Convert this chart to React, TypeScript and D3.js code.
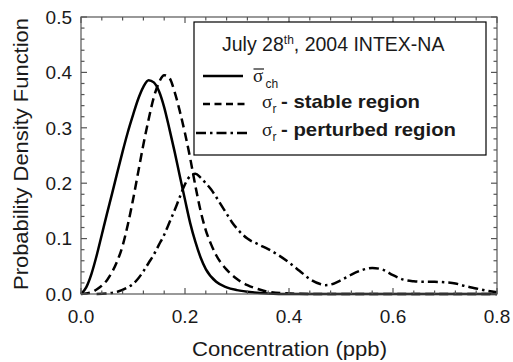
import React from "react";
import * as d3 from "d3";

// ---- data ----
const chX = [0, 0.01, 0.02, 0.03, 0.04, 0.05, 0.06, 0.07, 0.08, 0.09, 0.1, 0.11, 0.12, 0.13, 0.14, 0.15, 0.16, 0.17, 0.18, 0.19, 0.2, 0.21, 0.22, 0.23, 0.24, 0.26, 0.28, 0.3, 0.33, 0.36, 0.4, 0.8];
const chY = [0, 0.012, 0.036, 0.069, 0.107, 0.145, 0.182, 0.22, 0.257, 0.292, 0.323, 0.352, 0.374, 0.386, 0.382, 0.366, 0.337, 0.298, 0.257, 0.213, 0.17, 0.128, 0.094, 0.066, 0.045, 0.022, 0.012, 0.007, 0.003, 0.001, 0, 0];

const stableX = [0, 0.02, 0.03, 0.04, 0.05, 0.06, 0.07, 0.08, 0.09, 0.1, 0.11, 0.12, 0.13, 0.14, 0.15, 0.16, 0.17, 0.18, 0.19, 0.2, 0.21, 0.22, 0.23, 0.24, 0.25, 0.26, 0.28, 0.3, 0.32, 0.34, 0.36, 0.4, 0.45, 0.8];
const stableY = [0, 0.003, 0.008, 0.015, 0.025, 0.04, 0.06, 0.087, 0.125, 0.17, 0.22, 0.27, 0.315, 0.355, 0.382, 0.395, 0.39, 0.365, 0.33, 0.29, 0.245, 0.195, 0.15, 0.115, 0.09, 0.07, 0.044, 0.027, 0.016, 0.009, 0.004, 0.001, 0, 0];

const pertX = [0.03, 0.05, 0.07, 0.09, 0.1, 0.11, 0.12, 0.13, 0.14, 0.15, 0.16, 0.17, 0.18, 0.19, 0.2, 0.21, 0.22, 0.23, 0.24, 0.25, 0.26, 0.27, 0.28, 0.29, 0.3, 0.32, 0.34, 0.36, 0.38, 0.4, 0.42, 0.44, 0.46, 0.47, 0.48, 0.5, 0.52, 0.54, 0.56, 0.58, 0.6, 0.62, 0.64, 0.66, 0.68, 0.7, 0.72, 0.74, 0.76, 0.78, 0.8];
const pertY = [0, 0.001, 0.004, 0.012, 0.018, 0.028, 0.041, 0.056, 0.071, 0.089, 0.107, 0.129, 0.151, 0.175, 0.198, 0.213, 0.217, 0.21, 0.2, 0.189, 0.175, 0.16, 0.145, 0.13, 0.118, 0.1, 0.09, 0.081, 0.07, 0.057, 0.042, 0.027, 0.018, 0.016, 0.017, 0.025, 0.035, 0.043, 0.047, 0.044, 0.034, 0.026, 0.023, 0.022, 0.022, 0.021, 0.019, 0.014, 0.01, 0.006, 0.003];

const xTicks = [0, 0.2, 0.4, 0.6, 0.8];
const yTicks = [0, 0.1, 0.2, 0.3, 0.4, 0.5];
const xMinor = [0.04, 0.08, 0.12, 0.16, 0.24, 0.28, 0.32, 0.36, 0.44, 0.48, 0.52, 0.56, 0.64, 0.68, 0.72, 0.76];
const yMinor = [0.02, 0.04, 0.06, 0.08, 0.12, 0.14, 0.16, 0.18, 0.22, 0.24, 0.26, 0.28, 0.32, 0.34, 0.36, 0.38, 0.42, 0.44, 0.46, 0.48];

const title = "July 28";
const titleSup = "th";
const titleRest = ", 2004 INTEX-NA";
const xLabel = "Concentration (ppb)";
const yLabel = "Probability Density Function";

export default function App() {
  const W = 513, H = 362;
  const L = 81, R = 497, T = 17, B = 294;
  const x = d3.scaleLinear().domain([0, 0.8]).range([L, R]);
  const y = d3.scaleLinear().domain([0, 0.5]).range([B, T]);
  const line = d3.line<[number, number]>().x(d => x(d[0])).y(d => y(d[1])).curve(d3.curveMonotoneX);
  const mk = (xs: number[], ys: number[]) => xs.map((v, i) => [v, ys[i]] as [number, number]);
  const axisCol = "#555";
  const txt = "#1a1a1a";
  const font = "'Liberation Sans', Arial, Helvetica, sans-serif";
  const serif = "'Liberation Serif', 'Times New Roman', serif";
  const maj = 6, mnr = 3.5;

  return (
    <svg width={W} height={H} style={{ position: "absolute", left: 0, top: 0, background: "#fff" }} fontFamily={font}>
      <rect x={0} y={0} width={W} height={H} fill="#fff" />
      {/* curves */}
      <g fill="none" stroke="#000" strokeWidth={2.5}>
        <path d={line(mk(pertX, pertY)) || ""} strokeDasharray="10 4 2.5 4" />
        <path d={line(mk(stableX, stableY)) || ""} strokeDasharray="9 5" />
        <path d={line(mk(chX, chY)) || ""} />
      </g>
      {/* frame and ticks */}
      <g stroke={axisCol} strokeWidth={1.2}>
        <rect x={L} y={T} width={R - L} height={B - T} fill="none" />
        {xTicks.map(t => (
          <g key={"xt" + t}>
            <line x1={x(t)} x2={x(t)} y1={B} y2={B - maj} />
            <line x1={x(t)} x2={x(t)} y1={T} y2={T + maj} />
          </g>
        ))}
        {xMinor.map(t => (
          <g key={"xm" + t}>
            <line x1={x(t)} x2={x(t)} y1={B} y2={B - mnr} />
            <line x1={x(t)} x2={x(t)} y1={T} y2={T + mnr} />
          </g>
        ))}
        {yTicks.map(t => (
          <g key={"yt" + t}>
            <line x1={L} x2={L + maj} y1={y(t)} y2={y(t)} />
            <line x1={R} x2={R - maj} y1={y(t)} y2={y(t)} />
          </g>
        ))}
        {yMinor.map(t => (
          <g key={"ym" + t}>
            <line x1={L} x2={L + mnr} y1={y(t)} y2={y(t)} />
            <line x1={R} x2={R - mnr} y1={y(t)} y2={y(t)} />
          </g>
        ))}
      </g>
      {/* tick labels */}
      <g fill={txt} fontSize={19}>
        {xTicks.map(t => (
          <text key={"xl" + t} x={x(t)} y={323} textAnchor="middle">{t.toFixed(1)}</text>
        ))}
        {yTicks.map(t => (
          <text key={"yl" + t} x={72} y={y(t) + 6.7} textAnchor="end">{t.toFixed(1)}</text>
        ))}
      </g>
      {/* axis titles */}
      <text x={289.5} y={356} textAnchor="middle" fontSize={20} fill={txt} textLength={195} lengthAdjust="spacingAndGlyphs">{xLabel}</text>
      <text transform="translate(28,154) rotate(-90)" x={0} y={0} textAnchor="middle" fontSize={20} fill={txt} textLength={272} lengthAdjust="spacingAndGlyphs">{yLabel}</text>
      {/* legend */}
      <g>
        <rect x={194} y={22} width={292} height={133} fill="#fff" stroke="#000" strokeWidth={1.2} />
        <text x={222} y={51} fontSize={19.5} fill={txt}>
          {title}
          <tspan fontSize={12} dy={-7}>{titleSup}</tspan>
          <tspan dy={7}>{titleRest}</tspan>
        </text>
        <g stroke="#000" strokeWidth={2.5}>
          <line x1={203} x2={243} y1={76} y2={76} />
          <line x1={203} x2={245} y1={104} y2={104} strokeDasharray="7 4.5" />
          <line x1={196} x2={250} y1={133} y2={133} strokeDasharray="10 4 2.5 4" />
        </g>
        {/* sigma bar ch */}
        <text x={253} y={82} fontSize={19} fontFamily={serif} fill={txt}>σ</text>
        <line x1={253.5} x2={264} y1={69} y2={69} stroke={txt} strokeWidth={1.2} />
        <text x={265.5} y={87.5} fontSize={12} fill={txt}>ch</text>
        {/* sigma r stable */}
        <text x={262} y={108} fontSize={19} fontFamily={serif} fill={txt}>σ</text>
        <text x={272.5} y={113} fontSize={12} fill={txt}>r</text>
        <text x={281} y={108} fontSize={19} fontWeight="bold" fill={txt} textLength={139} lengthAdjust="spacingAndGlyphs">- stable region</text>
        {/* sigma r perturbed */}
        <text x={262} y={136} fontSize={19} fontFamily={serif} fill={txt}>σ</text>
        <text x={272.5} y={141} fontSize={12} fill={txt}>r</text>
        <text x={281} y={136} fontSize={19} fontWeight="bold" fill={txt} textLength={175} lengthAdjust="spacingAndGlyphs">- perturbed region</text>
      </g>
    </svg>
  );
}
